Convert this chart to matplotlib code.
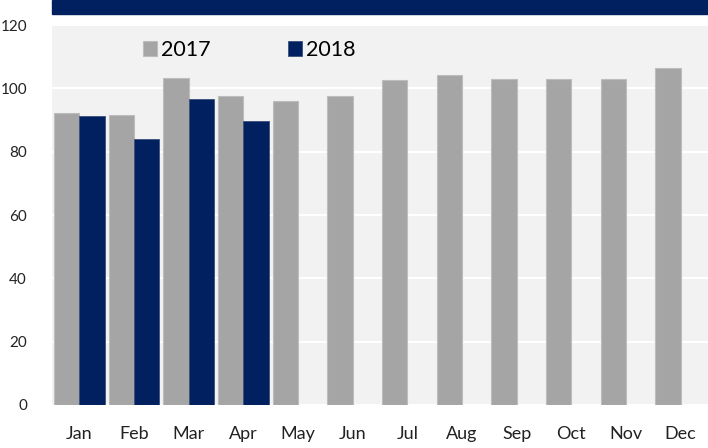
import matplotlib
matplotlib.use("Agg")
import matplotlib.pyplot as plt
import numpy as np
from matplotlib.patches import Rectangle

months = ["Jan", "Feb", "Mar", "Apr", "May", "Jun", "Jul", "Aug", "Sep", "Oct", "Nov", "Dec"]
values_2017 = [92.3, 91.7, 103.2, 97.7, 96.0, 97.6, 102.7, 104.2, 102.8, 103.0, 103.0, 106.4]
values_2018 = [91.4, 84.1, 96.6, 89.8]
series_labels = ["2017", "2018"]
yticks = [0, 20, 40, 60, 80, 100, 120]

C2017 = "#A5A5A5"
C2018 = "#002060"
BG = "#F2F2F2"

plt.rcParams['font.family'] = ['Lato', 'DejaVu Sans']

fig = plt.figure(figsize=(7.08, 4.48), dpi=100)
ax = fig.add_axes([52/708, 1-405/448, (708-52)/708, (405-25)/448])
ax.set_facecolor(BG)

x = np.arange(len(months))
w = 0.465
ax.bar(x - w/2, values_2017, width=w, color=C2017, edgecolor="#BDBDBD", linewidth=0.8,
       label=series_labels[0], zorder=3)
ax.bar(x[:len(values_2018)] + w/2, values_2018, width=w, color=C2018, edgecolor="#3A4F7A",
       linewidth=0.6, label=series_labels[1], zorder=3)

ax.set_xlim(-0.5, len(months) - 0.5)
ax.set_ylim(0, 120)
ax.set_yticks(yticks)
ax.set_yticklabels([str(t) for t in yticks], fontsize=11, color="#222222")
ax.set_xticks(x)
ax.set_xticklabels(months, fontsize=13, color="#222222")
ax.tick_params(axis='both', length=0)
ax.tick_params(axis='y', pad=18)
ax.tick_params(axis='x', pad=15)
ax.yaxis.grid(True, color="white", linewidth=1.5, zorder=1)
ax.set_axisbelow(True)
for s in ax.spines.values():
    s.set_visible(False)

leg = ax.legend(loc="upper left", bbox_to_anchor=(0.115, 1.0), ncol=2, frameon=False,
                fontsize=15.5, handlelength=0.65, handleheight=0.65, handletextpad=0.2,
                columnspacing=3.6, borderaxespad=0.3)

# top banner
fig.patches.append(Rectangle((52/708, 1-14/448), (708-52)/708, 14/448,
                             transform=fig.transFigure, color=C2018, zorder=5))

fig.savefig("out.png", dpi=100)
